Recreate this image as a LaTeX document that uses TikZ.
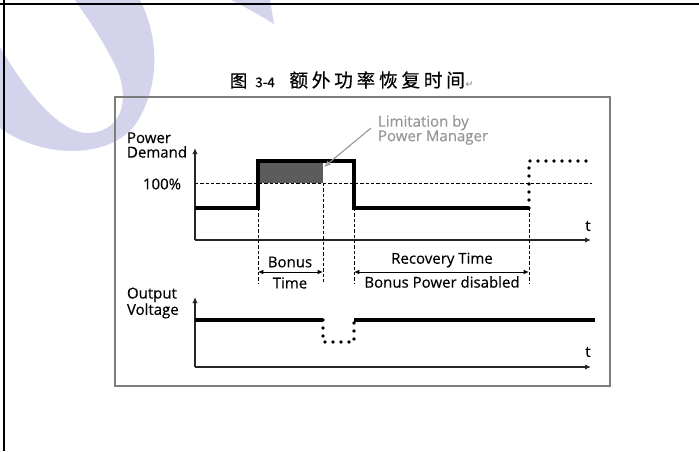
\documentclass[tikz,border=0pt]{standalone}
\usepackage{fontspec}
\setmainfont{Open Sans}[FakeBold=0.35]
\newfontfamily\cjk{Noto Sans CJK SC}[FakeBold=0.4]
\newfontfamily\dvs{DejaVu Sans}
\usetikzlibrary{arrows.meta}
\definecolor{lav}{RGB}{211,212,236}
\definecolor{framegray}{RGB}{125,125,125}
\definecolor{fillgray}{RGB}{92,92,92}
\definecolor{notegray}{RGB}{150,150,150}
\begin{document}
\begin{tikzpicture}[x=0.75pt,y=-0.75pt,
  every node/.style={inner sep=0pt, outer sep=0pt},
  txt/.style={font=\fontsize{11.25}{10.9}\selectfont, align=left},
  note/.style={txt, text=notegray},
  sig/.style={line width=2.5pt, line join=miter},
  dotsig/.style={line width=2.9pt, line cap=round, dash pattern=on 0pt off 6pt},
  axisline/.style={line width=1.2pt, black!85, -{Latex[length=4.5pt,width=4pt]}},
  guide/.style={line width=0.75pt, dash pattern=on 2.5pt off 1.5pt},
  spanarrow/.style={line width=0.75pt, {Latex[length=4pt,width=3.5pt]}-{Latex[length=4pt,width=3.5pt]}},
]
\useasboundingbox (0,0) rectangle (699,451);
\fill[white] (0,0) rectangle (699,451);
% watermark
\fill[lav] (140,0) .. controls (158,35) and (162,85) .. (135,125) .. controls (110,158) and (45,160) .. (0,128) -- (0,47) .. controls (25,90) and (60,135) .. (90,133) .. controls (125,130) and (130,95) .. (115,65) .. controls (100,35) and (85,15) .. (75,0) -- cycle;
\fill[lav] (231,0) -- (270,0) -- (274,24) .. controls (258,14) and (243,6) .. (231,0);
% page border lines
\draw[line width=1.5pt] (0,3.5) -- (699,3.5);
\draw[line width=1.5pt] (3.5,0) -- (3.5,451);
% frame
\draw[framegray, line width=1.6pt] (115,97) rectangle (610,386);
% title
\node[anchor=west] (title) at (230,80) {\cjk{\fontsize{13}{14}\selectfont 图}\kern6pt{\fontsize{10}{10}\selectfont 3-4}\kern11pt\fontsize{14}{16}\selectfont 额\kern2.8pt外\kern2.8pt功\kern2.8pt率\kern2.8pt恢\kern2.8pt复\kern2.8pt时\kern2.8pt间\kern0.5pt{\dvs\color{gray}\fontsize{7}{8}\selectfont ↵}};

% ---------- upper plot ----------
\coordinate (o1) at (195,240);
\coordinate (ytop1) at (195,148);
\coordinate (xend1) at (591,240);
\fill[fillgray] (258,161) rectangle (323,183);
\draw[guide] (195,183) -- (592,183);
\draw[axisline] (o1) -- (ytop1);
\draw[axisline] (o1) -- (xend1);
\coordinate (a0) at (195,208);
\coordinate (a1) at (258,208);
\coordinate (a2) at (258,161);
\coordinate (a3) at (354,161);
\coordinate (a4) at (354,208);
\coordinate (a5) at (529,208);
\coordinate (a6) at (529,161);
\coordinate (a7) at (592,161);
\draw[sig] (a0) -- (a1) -- (a2) -- (a3) -- (a4) -- (a5);
\draw[dotsig] (a5) -- (a6) -- (a7);
% guides
\coordinate (g1t) at (258,208); \coordinate (g1b) at (258,284);
\coordinate (g2t) at (323,183); \coordinate (g2b) at (323,284);
\coordinate (g3t) at (354,208); \coordinate (g3b) at (354,284);
\coordinate (g4t) at (529,208); \coordinate (g4b) at (529,284);
\draw[guide] (g1t) -- (g1b);
\draw[guide] (g2t) -- (g2b);
\draw[guide] (g3t) -- (g3b);
\draw[guide] (g4t) -- (g4b);
\coordinate (s1l) at (258,272); \coordinate (s1r) at (323,272);
\coordinate (s2l) at (354,272); \coordinate (s2r) at (529,272);
\draw[spanarrow] (s1l) -- (s1r);
\draw[spanarrow] (s2l) -- (s2r);
% labels
\node[txt, anchor=west] (pd) at (127,145) {Power\\Demand};
\node[txt] (pct) at (162,184) {100\%};
\node[txt] (t1) at (588,226) {t};
\node[note, anchor=west] (lim) at (378,130) {Limitation by\\Power Manager};
\coordinate (limstart) at (371,128);
\coordinate (limtip) at (324,167);
\draw[notegray, line width=0.8pt, -{Latex[open,length=5pt,width=4pt]}] (limstart) -- (limtip);
\node[txt] (bonus) at (290,262) {Bonus};
\node[txt] (btime) at (290,283) {Time};
\node[txt] (rec) at (442,260) {Recovery Time};
\node[txt] (bpd) at (442,282) {Bonus Power disabled};

% ---------- lower plot ----------
\coordinate (o2) at (195,367);
\coordinate (ytop2) at (195,297);
\coordinate (xend2) at (591,367);
\draw[axisline] (o2) -- (ytop2);
\draw[axisline] (o2) -- (xend2);
\coordinate (b0) at (195,320);
\coordinate (b1) at (323,320);
\coordinate (b2) at (323,342);
\coordinate (b3) at (354,342);
\coordinate (b4) at (354,320);
\coordinate (b5) at (595,320);
\draw[sig] (b0) -- (b1);
\draw[dotsig] (b1) -- (b2) -- (b3) -- (b4);
\draw[sig] (b4) -- (b5);
\node[txt, anchor=west] (ov) at (127,303) {Output\\Voltage};
\node[txt] (t2) at (588,352) {t};
\end{tikzpicture}
\end{document}
